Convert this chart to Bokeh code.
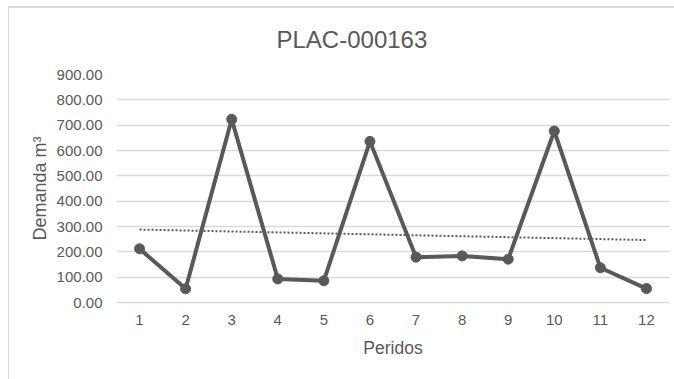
import numpy as np
from bokeh.plotting import figure
from bokeh.models import FixedTicker, NumeralTickFormatter, Range1d
from bokeh.embed import file_html
from bokeh.resources import INLINE

# ---- data ----
periods = [1, 2, 3, 4, 5, 6, 7, 8, 9, 10, 11, 12]
demand = [212, 54, 723, 93, 86, 636, 179, 184, 171, 677, 137, 55]
y_ticks = [0, 100, 200, 300, 400, 500, 600, 700, 800, 900]
title_text = "PLAC-000163"
x_label = "Peridos"
y_label = "Demanda m³"

# linear trend (least squares) from the data
slope, intercept = np.polyfit(periods, demand, 1)
trend_x = [periods[0], periods[-1]]
trend_y = [slope * x + intercept for x in trend_x]

GRAY = "#595959"
GRID = "#d9d9d9"
FONT = "Liberation Sans"

# chart-area border (top and left edges) painted as the page background
chart_border = ("linear-gradient(#d9d9d9, #d9d9d9) 8px 6px / 1px 373px no-repeat, "
                "linear-gradient(#d9d9d9, #d9d9d9) 8px 6px / 666px 2px no-repeat, "
                "#ffffff")

p = figure(width=674, height=379, output_backend="svg", toolbar_location=None,
           x_range=Range1d(0.5, 12.5), y_range=Range1d(0, 900),
           min_border_left=116, min_border_right=5, min_border_bottom=77,
           min_border_top=74,
           styles={"background": chart_border})

p.title.text = title_text
p.title.text_font = FONT
p.title.text_font_size = "24px"
p.title.text_font_style = "normal"
p.title.text_color = GRAY
p.title.align = "left"
p.title.vertical_align = "top"
p.title.offset = 160
p.title.standoff = 39

p.outline_line_color = None
p.background_fill_color = None
p.border_fill_color = None

# axes
p.xaxis.ticker = FixedTicker(ticks=periods)
p.yaxis.ticker = FixedTicker(ticks=y_ticks)
p.yaxis.formatter = NumeralTickFormatter(format="0.00")
for ax in (p.xaxis[0], p.yaxis[0]):
    ax.major_tick_line_color = None
    ax.minor_tick_line_color = None
    ax.major_tick_out = 0
    ax.major_tick_in = 0
    ax.minor_tick_out = 0
    ax.minor_tick_in = 0
    ax.major_label_text_font = FONT
    ax.major_label_text_color = GRAY
    ax.axis_label_text_font = FONT
    ax.axis_label_text_color = GRAY
    ax.axis_label_text_font_style = "normal"
p.yaxis.axis_line_color = None
p.xaxis.axis_line_color = GRID
p.xaxis.axis_line_width = 1.5
p.yaxis.major_label_text_font_size = "15px"
p.xaxis.major_label_text_font_size = "15px"
p.yaxis.major_label_standoff = 14
p.xaxis.major_label_standoff = 12
p.xaxis.axis_label = x_label
p.yaxis.axis_label = y_label
p.xaxis.axis_label_text_font_size = "17.5px"
p.yaxis.axis_label_text_font_size = "18px"
p.xaxis.axis_label_standoff = 10
p.yaxis.axis_label_standoff = 4

p.xgrid.grid_line_color = None
p.ygrid.grid_line_color = GRID
p.ygrid.grid_line_width = 1.5

# trend line
p.line(trend_x, trend_y, line_color=GRAY, line_width=2, line_dash="2 2")

# series
p.line(periods, demand, line_color=GRAY, line_width=4)
p.scatter(periods, demand, size=10, fill_color=GRAY, line_color=GRAY)

open("out.html", "w").write(file_html(p, INLINE))
